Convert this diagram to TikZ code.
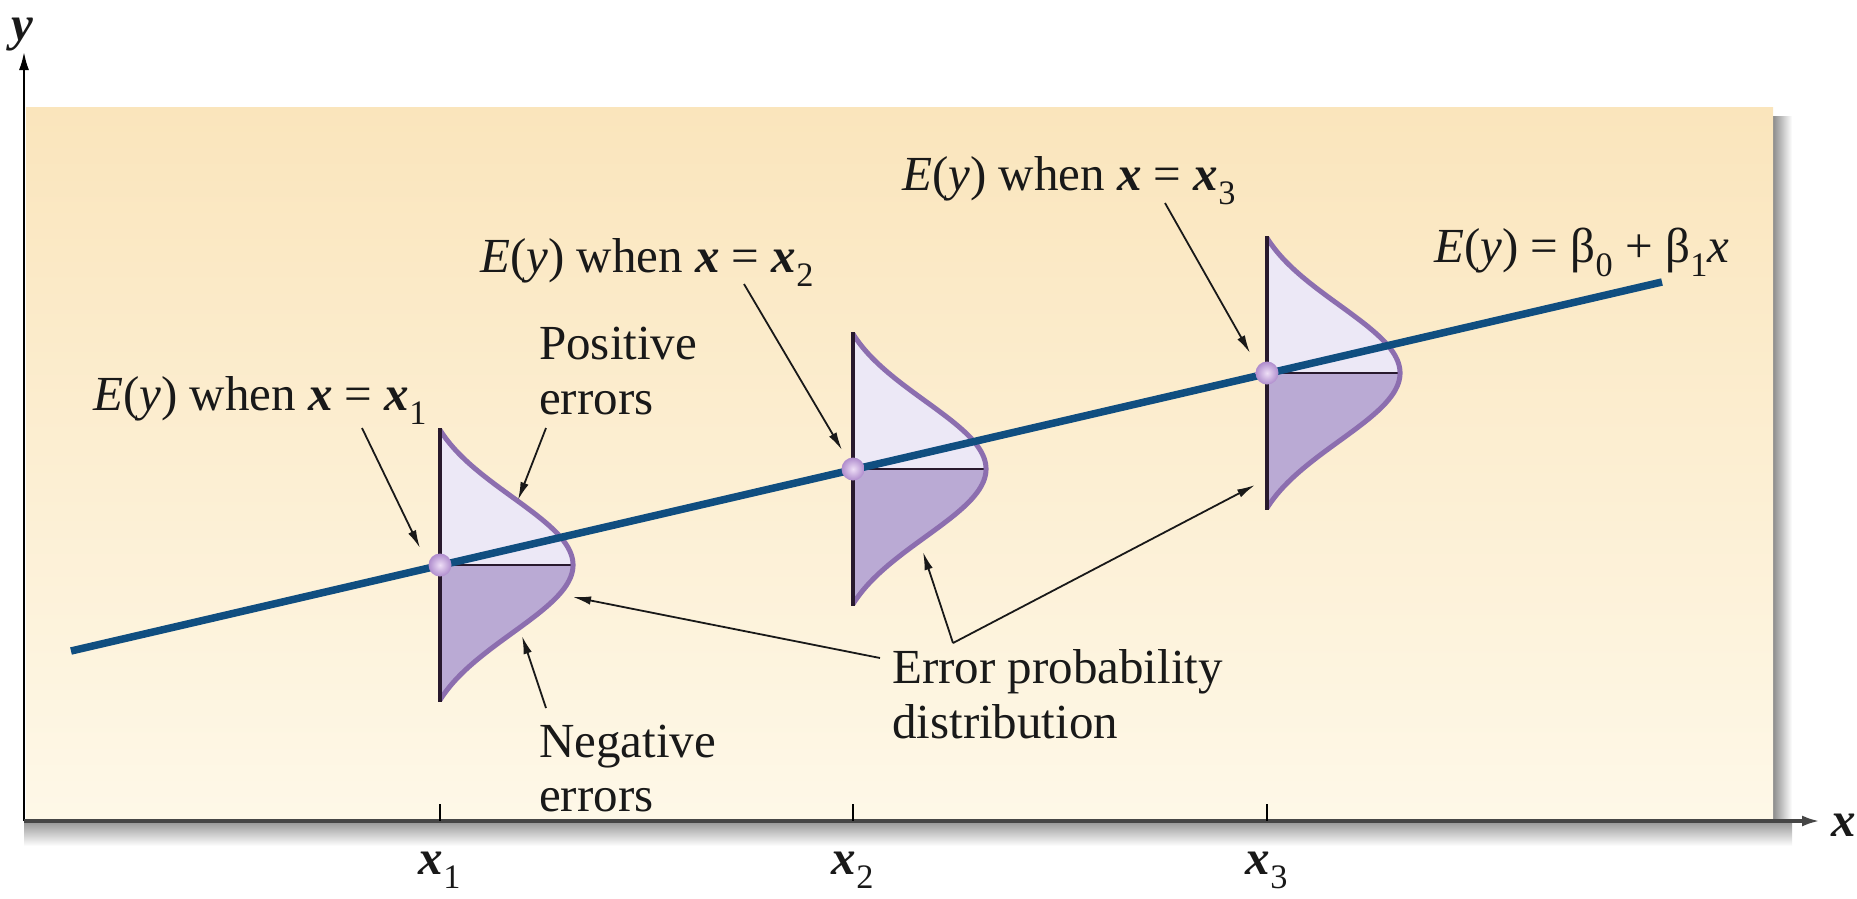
\documentclass[tikz,border=0pt]{standalone}
\usepackage{fontspec}
\setmainfont{Liberation Serif}
\usetikzlibrary{arrows.meta}
\definecolor{bgtop}{RGB}{250,229,188}
\definecolor{bgbot}{RGB}{254,248,232}
\definecolor{regblue}{RGB}{16,78,128}
\definecolor{barcol}{RGB}{40,25,45}
\definecolor{curvecol}{RGB}{140,110,175}
\definecolor{upfillc}{RGB}{236,232,246}
\definecolor{lowfillc}{RGB}{186,170,212}
\definecolor{dotin}{RGB}{238,222,246}
\definecolor{dotout}{RGB}{175,140,205}
\definecolor{axisgray}{RGB}{70,70,70}
\newcommand\Ewhen[1]{\textit{E}(\textit{y}) when \textbf{\textit{x}} = \textbf{\textit{x}}\textsubscript{#1}}
\newcommand\bellcurve[2]{%
  \fill[upfillc] (#1,#2) -- (#1,#2-135) -- plot[domain=-135:0,samples=60] ({#1+133*(exp(-0.5*(\x/68)^2)-0.1393)/0.8607},{#2+\x}) -- cycle;
  \fill[lowfillc] (#1,#2) -- plot[domain=0:135,samples=60] ({#1+133*(exp(-0.5*(\x/68)^2)-0.1393)/0.8607},{#2+\x}) -- (#1,#2+135) -- cycle;
  \draw[barcol, line width=1.5] (#1,#2) -- (#1+133,#2);
  \draw[curvecol, line width=5] plot[domain=-135:135,samples=120] ({#1+133*(exp(-0.5*(\x/68)^2)-0.1393)/0.8607},{#2+\x});
  \draw[barcol, line width=4.5] (#1,#2-137) -- (#1,#2+137);
}
\begin{document}
\begin{tikzpicture}[x=1pt,y=-1pt,
  every node/.style={font=\fontsize{49}{55}\selectfont, inner sep=0pt, text=black!90},
  ptr/.style={line width=1.8, black!90, -{Latex[length=18pt,width=8.5pt]}},
  lbl/.style={anchor=base west}]
\useasboundingbox (0,0) rectangle (1857,898);
% background panel with shadow
\shade[left color=black!45, right color=white] (1773,116) rectangle (1792,830);
\shade[top color=black!40, bottom color=white] (24,822) rectangle (1792,846);
\shade[top color=bgtop, bottom color=bgbot] (26,107) rectangle (1773,821);
% axes
\coordinate (O) at (24,821);
\coordinate (ytip) at (24,52);
\coordinate (xtip) at (1820,821);
\draw[line width=2, black, -{Latex[length=18pt,width=10pt]}] (O) -- (ytip);
\draw[line width=3.5, axisgray, -{Latex[length=18pt,width=11pt]}] (O) -- (xtip);
\foreach \t in {440,853,1267}{\draw[line width=1.5, black] (\t,804) -- (\t,821);}
\node[anchor=base] (ylab) at (22,40) {\textbf{\textit{y}}};
\node[lbl] (xlab) at (1831,836) {\textbf{\textit{x}}};
\node[anchor=base] (t1) at (440,874) {\textbf{\textit{x}}\textsubscript{1}};
\node[anchor=base] (t2) at (853,874) {\textbf{\textit{x}}\textsubscript{2}};
\node[anchor=base] (t3) at (1267,874) {\textbf{\textit{x}}\textsubscript{3}};
% distributions
\bellcurve{440}{565}
\bellcurve{853}{469}
\bellcurve{1267}{373}
% regression line
\coordinate (rs) at (71,651);
\coordinate (re) at (1662,282);
\draw[regblue, line width=7.5] (rs) -- (re);
\coordinate (d1) at (440,565);
\coordinate (d2) at (853,469);
\coordinate (d3) at (1267,373);
\foreach \d in {d1,d2,d3}{\shade[inner color=dotin, outer color=dotout] (\d) circle[radius=11.5];}
% labels
\node[lbl] (L1) at (93,410) {\Ewhen{1}};
\node[lbl] (L2) at (480,272) {\Ewhen{2}};
\node[lbl] (L3) at (902,190) {\Ewhen{3}};
\node[lbl] (F) at (1434,262) {\textit{E}(\textit{y}) = β\textsubscript{0} + β\textsubscript{1}\textit{x}};
\node[lbl] (P1) at (539,359) {Positive};
\node[lbl] (P2) at (539,414) {errors};
\node[lbl] (N1) at (539,757) {Negative};
\node[lbl] (N2) at (539,811) {errors};
\node[lbl] (E1) at (892,683) {Error probability};
\node[lbl] (E2) at (892,738) {distribution};
% arrow ends
\coordinate (a1s) at (362,428); \coordinate (a1t) at (420,548);
\coordinate (a2s) at (546,428); \coordinate (a2t) at (518,500);
\coordinate (a3s) at (546,708); \coordinate (a3t) at (522,636);
\coordinate (a4s) at (880,658); \coordinate (a4t) at (573,597);
\coordinate (a5s) at (953,643); \coordinate (a5t) at (923,552);
\coordinate (a6t) at (1255,485);
\coordinate (a7s) at (744,284); \coordinate (a7t) at (842,450);
\coordinate (a8s) at (1165,203); \coordinate (a8t) at (1250,353);
\draw[ptr] (a1s) -- (a1t);
\draw[ptr] (a2s) -- (a2t);
\draw[ptr] (a3s) -- (a3t);
\draw[ptr] (a4s) -- (a4t);
\draw[ptr] (a5s) -- (a5t);
\draw[ptr] (a5s) -- (a6t);
\draw[ptr] (a7s) -- (a7t);
\draw[ptr] (a8s) -- (a8t);
\end{tikzpicture}
\end{document}
